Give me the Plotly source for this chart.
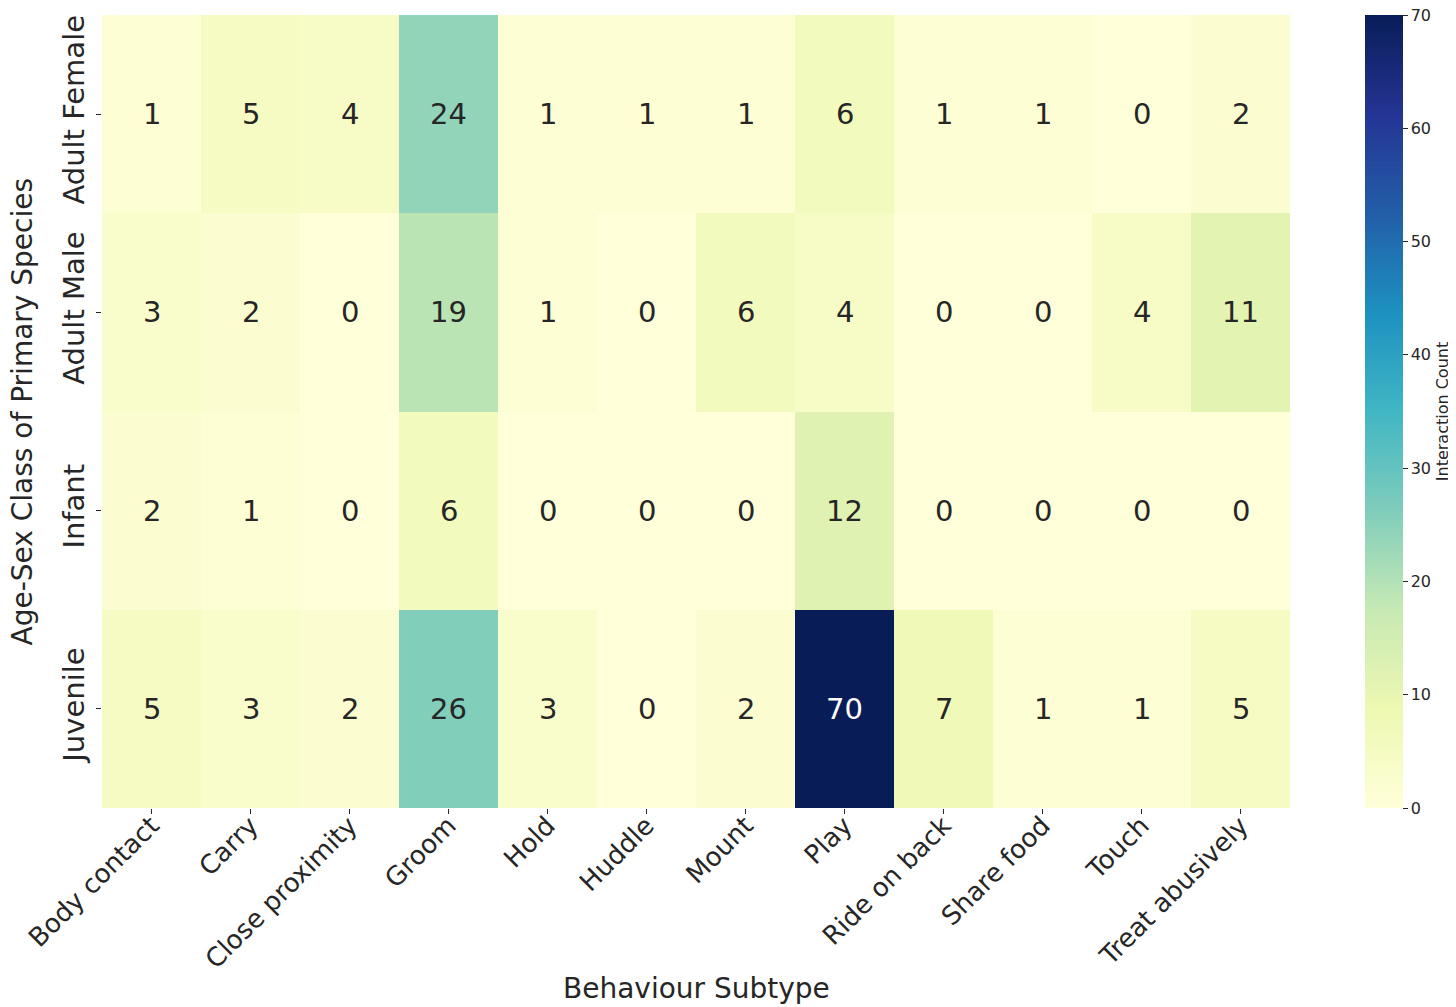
import plotly.graph_objects as go

# behaviour subtypes (columns) and age-sex classes (rows)
behaviours = ['Body contact', 'Carry', 'Close proximity', 'Groom', 'Hold', 'Huddle',
              'Mount', 'Play', 'Ride on back', 'Share food', 'Touch', 'Treat abusively']
classes = ['Adult Female', 'Adult Male', 'Infant', 'Juvenile']

adult_female = [1, 5, 4, 24, 1, 1, 1, 6, 1, 1, 0, 2]
adult_male = [3, 2, 0, 19, 1, 0, 6, 4, 0, 0, 4, 11]
infant = [2, 1, 0, 6, 0, 0, 0, 12, 0, 0, 0, 0]
juvenile = [5, 3, 2, 26, 3, 0, 2, 70, 7, 1, 1, 5]

counts = [adult_female, adult_male, infant, juvenile]
cbar_ticks = [0, 10, 20, 30, 40, 50, 60, 70]

font = 'DejaVu Sans'
ink = '#262626'

# page body has an 8px margin, so the figure is 8px smaller than the window
W, H = 1448, 999
top, bottom = 7, 199

trace = go.Heatmap(
    z=counts, x=behaviours, y=classes,
    colorscale='YlGnBu', zmin=0, zmax=70,
    colorbar=dict(
        x=1.0631, xanchor='left', xpad=0, y=0.5, yanchor='middle', ypad=0,
        len=1, lenmode='fraction', thickness=38, outlinewidth=0,
        tickvals=cbar_ticks, ticks='outside', ticklen=5, tickcolor=ink,
        ticklabeloverflow='allow',  # keep the "70" at the very top
        tickfont=dict(family=font, size=16, color=ink),
        title=dict(text='Interaction Count', side='right',
                   font=dict(family=font, size=16, color=ink)),
    ),
    hoverongaps=False,
)

# cell labels, white on the dark cells like seaborn's annot
notes = []
for row, vals in zip(classes, counts):
    for col, v in zip(behaviours, vals):
        notes.append(dict(x=col, y=row, text=str(v), showarrow=False,
                          font=dict(family=font, size=29,
                                    color='white' if v > 40 else ink)))

# axis titles as paper annotations so they sit where the original has them
notes.append(dict(text='Behaviour Subtype', xref='paper', yref='paper',
                  x=0.5, y=-0.227, yanchor='middle', showarrow=False,
                  font=dict(family=font, size=28, color=ink)))
notes.append(dict(text='Age-Sex Class of Primary Species', xref='paper', yref='paper',
                  x=-0.0665, y=0.5, xanchor='center', textangle=-90, showarrow=False,
                  font=dict(family=font, size=28, color=ink)))

layout = dict(
    width=W, height=H,
    margin=dict(l=94, r=166, t=top, b=bottom, autoexpand=False),
    paper_bgcolor='white', plot_bgcolor='white',
    font=dict(family=font, color=ink),
    annotations=notes,
    xaxis=dict(
        tickangle=-45, ticks='outside', ticklen=5, tickcolor=ink, automargin=False,
        ticklabelstandoff=-14,
        tickfont=dict(family=font, size=26, color=ink),
        showgrid=False, zeroline=False, showline=False,
    ),
    yaxis=dict(
        autorange='reversed', tickangle=-90, ticks='outside', ticklen=5, tickcolor=ink,
        automargin=False,
        tickfont=dict(family=font, size=29, color=ink),
        showgrid=False, zeroline=False, showline=False,
    ),
)

fig = go.Figure(data=[trace], layout=layout)
fig.write_html('out.html')
